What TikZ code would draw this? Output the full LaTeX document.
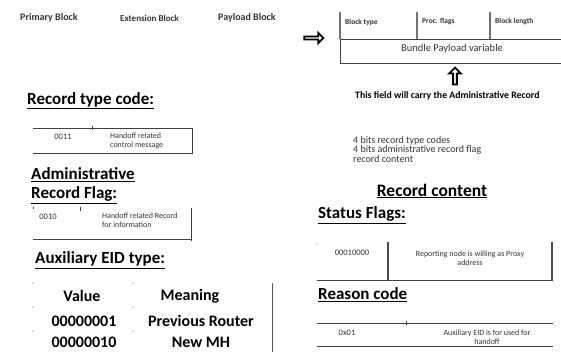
\documentclass[tikz,border=0pt]{standalone}
\usepackage{fontspec}
\setmainfont{Carlito}
\usetikzlibrary{shapes.arrows}

\tikzset{
  px/.style={x={(1pt,0)}, y={(0,-1pt)}},
  head/.style={anchor=west, inner sep=0, font=\bfseries\fontsize{17}{19}\selectfont},
  small/.style={inner sep=0, font=\fontsize{8.5}{10}\selectfont, text=black!80},
  tiny/.style={inner sep=0, font=\fontsize{8}{9}\selectfont, text=black!80, align=left},
  toptext/.style={inner sep=0, font=\bfseries\fontsize{10}{12}\selectfont, text=black!80},
  fieldtext/.style={inner sep=0, anchor=west, font=\bfseries\fontsize{7.5}{9}\selectfont, text=black!80},
  cell/.style={inner sep=0, font=\bfseries\fontsize{16}{18}\selectfont},
  rule/.style={line width=0.7pt, black!75},
  bar/.style={line width=1.8pt, black!55},
  hollow/.style={single arrow, draw=black, line width=1.8pt, fill=white,
                 inner sep=0, single arrow head extend=2pt},
}

\begin{document}
\begin{tikzpicture}[px]
\useasboundingbox (0,0) rectangle (561,352);

% ---- bundle blocks
\node[toptext, anchor=west] (prim) at (20,18) {Primary Block};
\node[toptext, anchor=west, font=\bfseries\fontsize{9}{11}\selectfont] (ext) at (120,18) {Extension Block};
\node[toptext, anchor=west] (pay)  at (218,18) {Payload Block};

\node[hollow, minimum height=19pt, minimum width=10pt] (expand) at (313,38) {};

% ---- payload block fields
\coordinate (b0) at (340,12);
\coordinate (b1) at (417,12);
\coordinate (b2) at (490,12);
\draw[bar] (b0) -- ++(0,27);
\draw[bar] (b1) -- ++(0,27);
\draw[bar] (b2) -- ++(0,27);
\node[fieldtext] (btype) at (345,22) {Block type};
\node[fieldtext] (pflag) at (422,22) {Proc. flags};
\node[fieldtext] (blen)  at (495,22) {Block length};

\draw[rule] (561,39) -- (340,39) -- (340,63) -- (561,63);
\node[inner sep=0, font=\fontsize{10.5}{12}\selectfont, text=black!80] (bpv) at (452,49) {Bundle Payload variable};

\node[hollow, rotate=90, minimum height=17pt, minimum width=12pt] (up) at (455,77) {};

\node[inner sep=0, font=\bfseries\fontsize{9.8}{11}\selectfont, anchor=west] (carry) at (355,96)
  {This field will carry the Administrative Record};

\node[tiny, anchor=north west, font=\fontsize{10}{9.5}\selectfont] (bits) at (353,136)
  {4 bits record type codes\\4 bits administrative record flag\\record content};

% ---- left column: record type code
\node[head] (rtc) at (27,101) {\underline{Record type code:}};
\draw[rule] (33,128) -- (192,128) -- (192,153) -- (33,153);
\draw[rule] (92,126) -- (92,130);
\node[small] (rtcv) at (63,137) {0011};
\node[tiny, anchor=north west] (rtcm) at (110,133) {Handoff related\\control message};

% ---- administrative record flag
\node[head] (arf1) at (31,175) {\underline{Administrative}};
\node[head] (arf2) at (31,195) {\underline{Record Flag:}};
\draw[rule] (33,239) -- (191,239);
\draw[rule] (191,208) -- (191,241);
\draw[rule] (80,207) -- (80,211);
\draw[rule] (33,207) -- (33,209);
\node[small] (arfv) at (48,217) {0010};
\node[tiny, anchor=north west] (arfm) at (102,213) {Handoff related Record\\for information};

% ---- auxiliary EID type
\node[head] (aux) at (35,260) {\underline{Auxiliary EID type:}};
\node[cell] (hv)  at (82,296)  {Value};
\node[cell] (hm)  at (190,296) {Meaning};
\node[cell] (v1)  at (84,321)  {00000001};
\node[cell] (m1)  at (201,321) {Previous Router};
\node[cell] (v2)  at (84,342)  {00000010};
\node[cell] (m2)  at (201,342) {New MH};
\draw[line width=1pt, black!65] (272,283) -- (272,352);
\foreach \yy in {283,307,331} {
  \fill[black!60] (33,\yy) circle (0.6);
  \fill[black!60] (133,\yy) circle (0.6);
}

% ---- right column: record content
\node[inner sep=0, font=\bfseries\fontsize{17.5}{19}\selectfont] (rc) at (432,191) {\underline{Record content}};

\node[head] (sf) at (318,215) {\underline{Status Flags:}};
\draw[rule] (317,280) -- (553,280);
\draw[line width=1.2pt, black!70] (388,242) -- (388,281);
\draw[line width=1.2pt, black!70] (552,242) -- (552,281);
\fill[black!60] (317,244) circle (0.6);
\node[small] (sfv) at (352,253) {00010000};
\node[tiny, align=center] (sfm) at (470,258) {Reporting node is willing as Proxy\\address};

\node[head] (rcode) at (318,295) {\underline{Reason code}};
\draw[rule] (317,323) -- (553,323);
\draw[rule] (317,346) -- (553,346);
\draw[rule] (406,321) -- (406,325);
\node[small] (rcv) at (347,333) {0x01};
\node[tiny, align=center] (rcm) at (487,337) {Auxiliary EID is for used for\\handoff};

\end{tikzpicture}
\end{document}
